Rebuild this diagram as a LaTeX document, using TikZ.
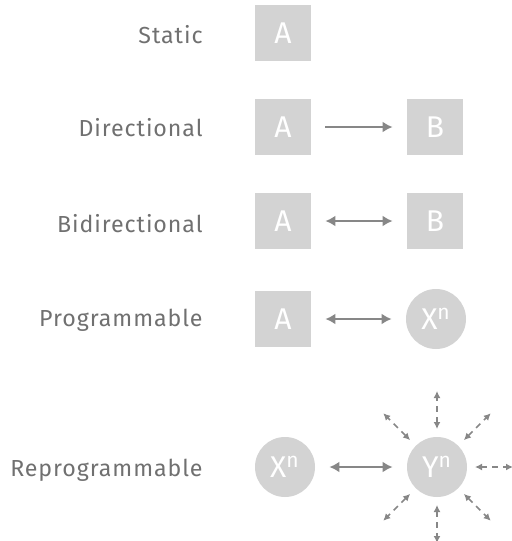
\documentclass[tikz,border=0pt]{standalone}
\usepackage{fontspec}
\setmainfont{Fira Sans}[LetterSpace=4]
\usepackage{tikz}
\usetikzlibrary{arrows.meta, positioning, calc}

\definecolor{labelgray}{HTML}{707070}
\definecolor{boxgray}{HTML}{D3D3D3}
\definecolor{arrowgray}{HTML}{878787}

\begin{document}
\begin{tikzpicture}[
    x=0.5pt, y=-0.5pt,
    label/.style={anchor=east, text=labelgray, font=\fontsize{11.6}{13}\selectfont, inner sep=0pt},
    unit/.style={rectangle, fill=boxgray, minimum width=28pt, minimum height=28pt, inner sep=0pt, text=white, font=\fontsize{15}{17}\selectfont},
    agent/.style={circle, fill=boxgray, minimum size=30pt, inner sep=0pt, text=white, font=\fontsize{15}{17}\selectfont},
    arrow/.style={-{Latex[length=5pt,width=5.5pt]}, line width=1.2pt, draw=arrowgray, shorten >=7pt, shorten <=7pt},
    biarrow/.style={arrow, {Latex[length=5pt,width=5.5pt]}-{Latex[length=5pt,width=5.5pt]}},
    ray/.style={{Latex[length=3.5pt,width=3.5pt]}-{Latex[length=3.5pt,width=3.5pt]}, line width=0.8pt, draw=arrowgray, dash pattern=on 3pt off 2.5pt}
]
\useasboundingbox (0,0) rectangle (511,541);

% static
\node[label] (lstatic) at (203,35) {Static};
\node[unit] (sa) at (283,33) {A};

% directional
\node[label] (ldir) at (203,128) {Directional};
\node[unit] (da) at (283,127) {A};
\node[unit] (db) at (435,127) {B};
\draw[arrow] (da) -- (db);

% bidirectional
\node[label] (lbi) at (203,224) {Bidirectional};
\node[unit] (ba) at (283,221) {A};
\node[unit] (bb) at (435,221) {B};
\draw[biarrow] (ba) -- (bb);

% programmable
\node[label] (lprog) at (203,320) {Programmable};
\node[unit] (pa) at (283,319) {A};
\node[agent] (px) at (436,319) {X\textsuperscript{n}};
\draw[biarrow] (pa) -- (px);

% reprogrammable
\node[label] (lreprog) at (203,470) {Reprogrammable};
\node[agent] (rx) at (285,467) {X\textsuperscript{n}};
\node[agent] (ry) at (437,467) {Y\textsuperscript{n}};
\draw[biarrow] (rx) -- (ry);
\foreach \a in {0,45,90,135,225,270,315}{
    \coordinate (in\a) at ($(ry.center)+(\a:38)$);
    \coordinate (out\a) at ($(ry.center)+(\a:76)$);
    \draw[ray] (in\a) -- (out\a);
}
\end{tikzpicture}
\end{document}
